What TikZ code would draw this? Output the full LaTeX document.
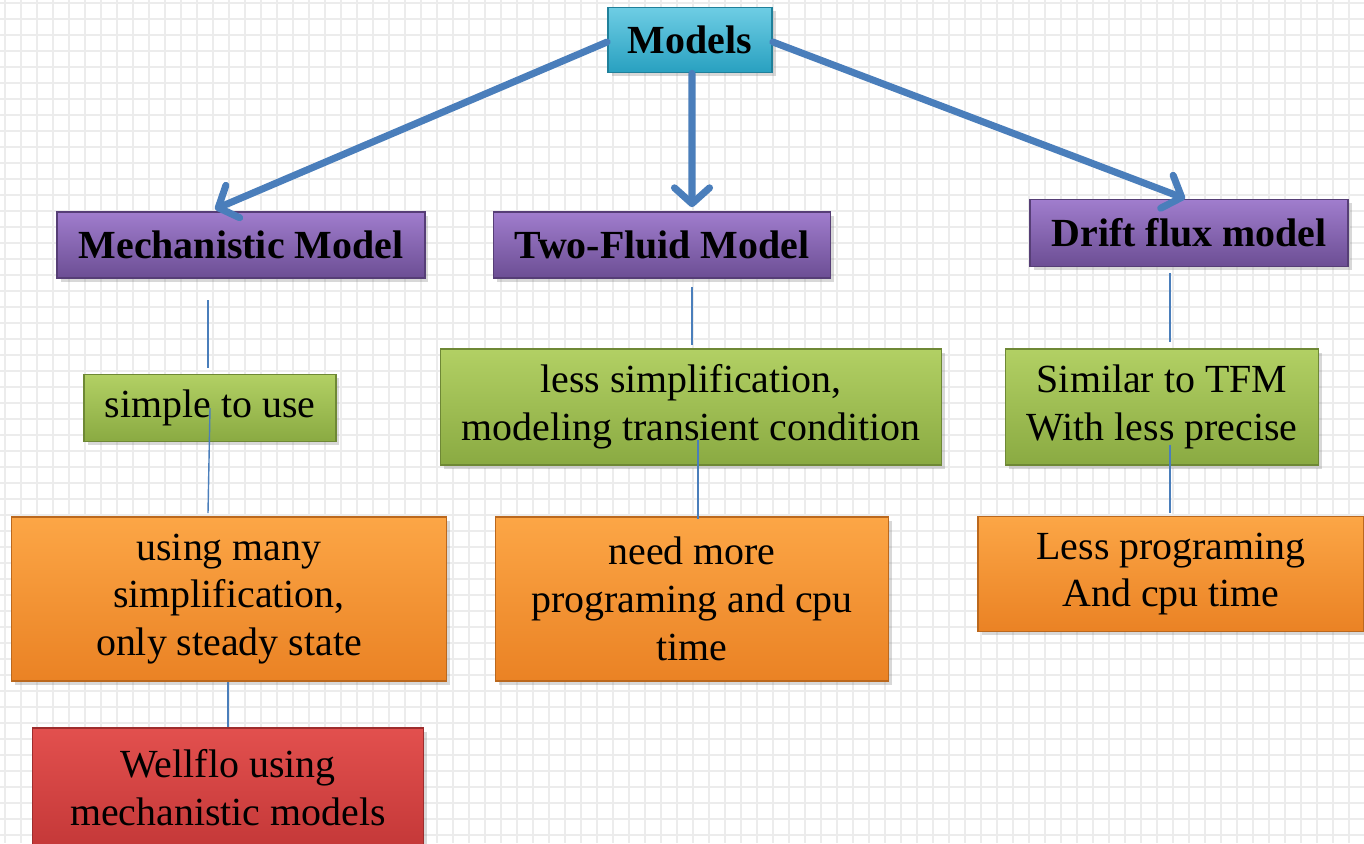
\documentclass[tikz,border=0pt]{standalone}
\usepackage{fontspec}
\setmainfont{Liberation Serif}
\usetikzlibrary{arrows.meta,shadows}

\definecolor{arrowblue}{RGB}{74,126,187}
\definecolor{gridgray}{RGB}{236,236,236}
\definecolor{aquatop}{RGB}{110,205,228}
\definecolor{aquabot}{RGB}{40,160,192}
\definecolor{purpletop}{RGB}{160,125,205}
\definecolor{purplebot}{RGB}{108,78,148}
\definecolor{greentop}{RGB}{178,208,100}
\definecolor{greenbot}{RGB}{138,170,66}
\definecolor{orangetop}{RGB}{252,166,70}
\definecolor{orangebot}{RGB}{234,130,36}
\definecolor{redtop}{RGB}{226,80,78}
\definecolor{redbot}{RGB}{196,56,56}

\tikzset{
  box/.style={rectangle,inner sep=2pt,align=center,line width=1pt,
              drop shadow={opacity=0.3,shadow xshift=2pt,shadow yshift=-2pt},
              font=\fontsize{22.7}{27.2}\selectfont},
  titlebox/.style={font=\fontsize{22.7}{27.2}\selectfont\bfseries},
  cyanbox/.style={box,draw=aquabot!80!black,top color=aquatop,bottom color=aquabot},
  purplebox/.style={box,titlebox,draw=purplebot!80!black,top color=purpletop,bottom color=purplebot},
  greenbox/.style={box,draw=greenbot!80!black,top color=greentop,bottom color=greenbot},
  orangebox/.style={box,draw=orangebot!80!black,top color=orangetop,bottom color=orangebot},
  redbox/.style={box,draw=redbot!80!black,top color=redtop,bottom color=redbot},
  bigarrow/.style={arrowblue,line width=4pt,line cap=round,-{Straight Barb[length=9pt,width=20pt,line cap=round,line join=round]}},
  link/.style={arrowblue,line width=0.8pt},
}

\begin{document}
\begin{tikzpicture}[x=0.02cm,y=-0.02cm]
        % background sheet
        \useasboundingbox (0,0) rectangle (1364,843);
        \clip (0,0) rectangle (1364,843);
        \fill[white] (0,0) rectangle (1364,843);
        \foreach \gx in {5,21,...,1364} \draw[gridgray,line width=0.8pt] (\gx,0) -- (\gx,843);
        \foreach \gy in {3,19,...,843}  \draw[gridgray,line width=0.8pt] (0,\gy) -- (1364,\gy);

        % top level
        \node[cyanbox,minimum width=3.28cm,minimum height=1.30cm,titlebox] (models) at (690,40) {Models};

        \node[purplebox,minimum width=7.36cm,minimum height=1.32cm] (mech)  at (241,245)  {Mechanistic Model};
        \node[purplebox,minimum width=6.74cm,minimum height=1.32cm] (tfm)   at (662,245)  {Two-Fluid Model};
        \node[purplebox,minimum width=6.36cm,minimum height=1.34cm] (drift) at (1189,233) {Drift flux model};

        % second row
        \node[greenbox,minimum width=5.04cm,minimum height=1.34cm]  (simple)   at (210,408)  {simple to use};
        \node[greenbox,minimum width=10.02cm,minimum height=2.32cm] (lesssimp) at (691,407)  {less simplification,\\modeling transient condition};
        \node[greenbox,minimum width=6.26cm,minimum height=2.32cm]  (similar)  at (1162,407) {Similar to TFM\\With less precise};

        % third row
        \node[orangebox,minimum width=8.70cm,minimum height=3.28cm] (many)     at (229,599)  {using many\\simplification,\\only steady state};
        \node[orangebox,minimum width=7.86cm,minimum height=3.28cm] (needmore) at (692,599)  {need more\\programing and cpu\\time};
        \node[orangebox,minimum width=7.72cm,minimum height=2.30cm] (lessprog) at (1171,574) {Less programing\\And cpu time};

        % last row
        \node[redbox,minimum width=7.82cm,minimum height=2.40cm] (wellflo) at (228,788) {Wellflo using\\mechanistic models};

        % arrows from the top
        \draw[bigarrow] ([yshift=-0.04cm]models.west) -- ([xshift=-0.52cm,yshift=0.04cm]mech.north);
        \draw[bigarrow] ([xshift=0.04cm]models.south) -- ([xshift=0.6cm,yshift=0.08cm]tfm.north);
        \draw[bigarrow] ([yshift=-0.04cm]models.east) -- ([xshift=-0.08cm]drift.north);

        % thin links
        \coordinate (m1) at (208,300);
        \coordinate (m2) at (208,368);
        \coordinate (m3) at (208,513);
        \coordinate (t1) at (692,287);
        \coordinate (t2) at (692,345);
        \coordinate (t3) at (698,440);
        \coordinate (t4) at (698,519);
        \coordinate (d1) at (1170,273);
        \coordinate (d2) at (1170,342);
        \coordinate (d3) at (1170,445);
        \coordinate (d4) at (1170,513);

        \draw[link] (m1) -- (m2);
        \draw[link] (simple.center) -- (m3);
        \draw[link] ([xshift=-0.02cm]many.south) -- (wellflo.north);
        \draw[link] (t1) -- (t2);
        \draw[link] (t3) -- (t4);
        \draw[link] (d1) -- (d2);
        \draw[link] (d3) -- (d4);
    \end{tikzpicture}
\end{document}
